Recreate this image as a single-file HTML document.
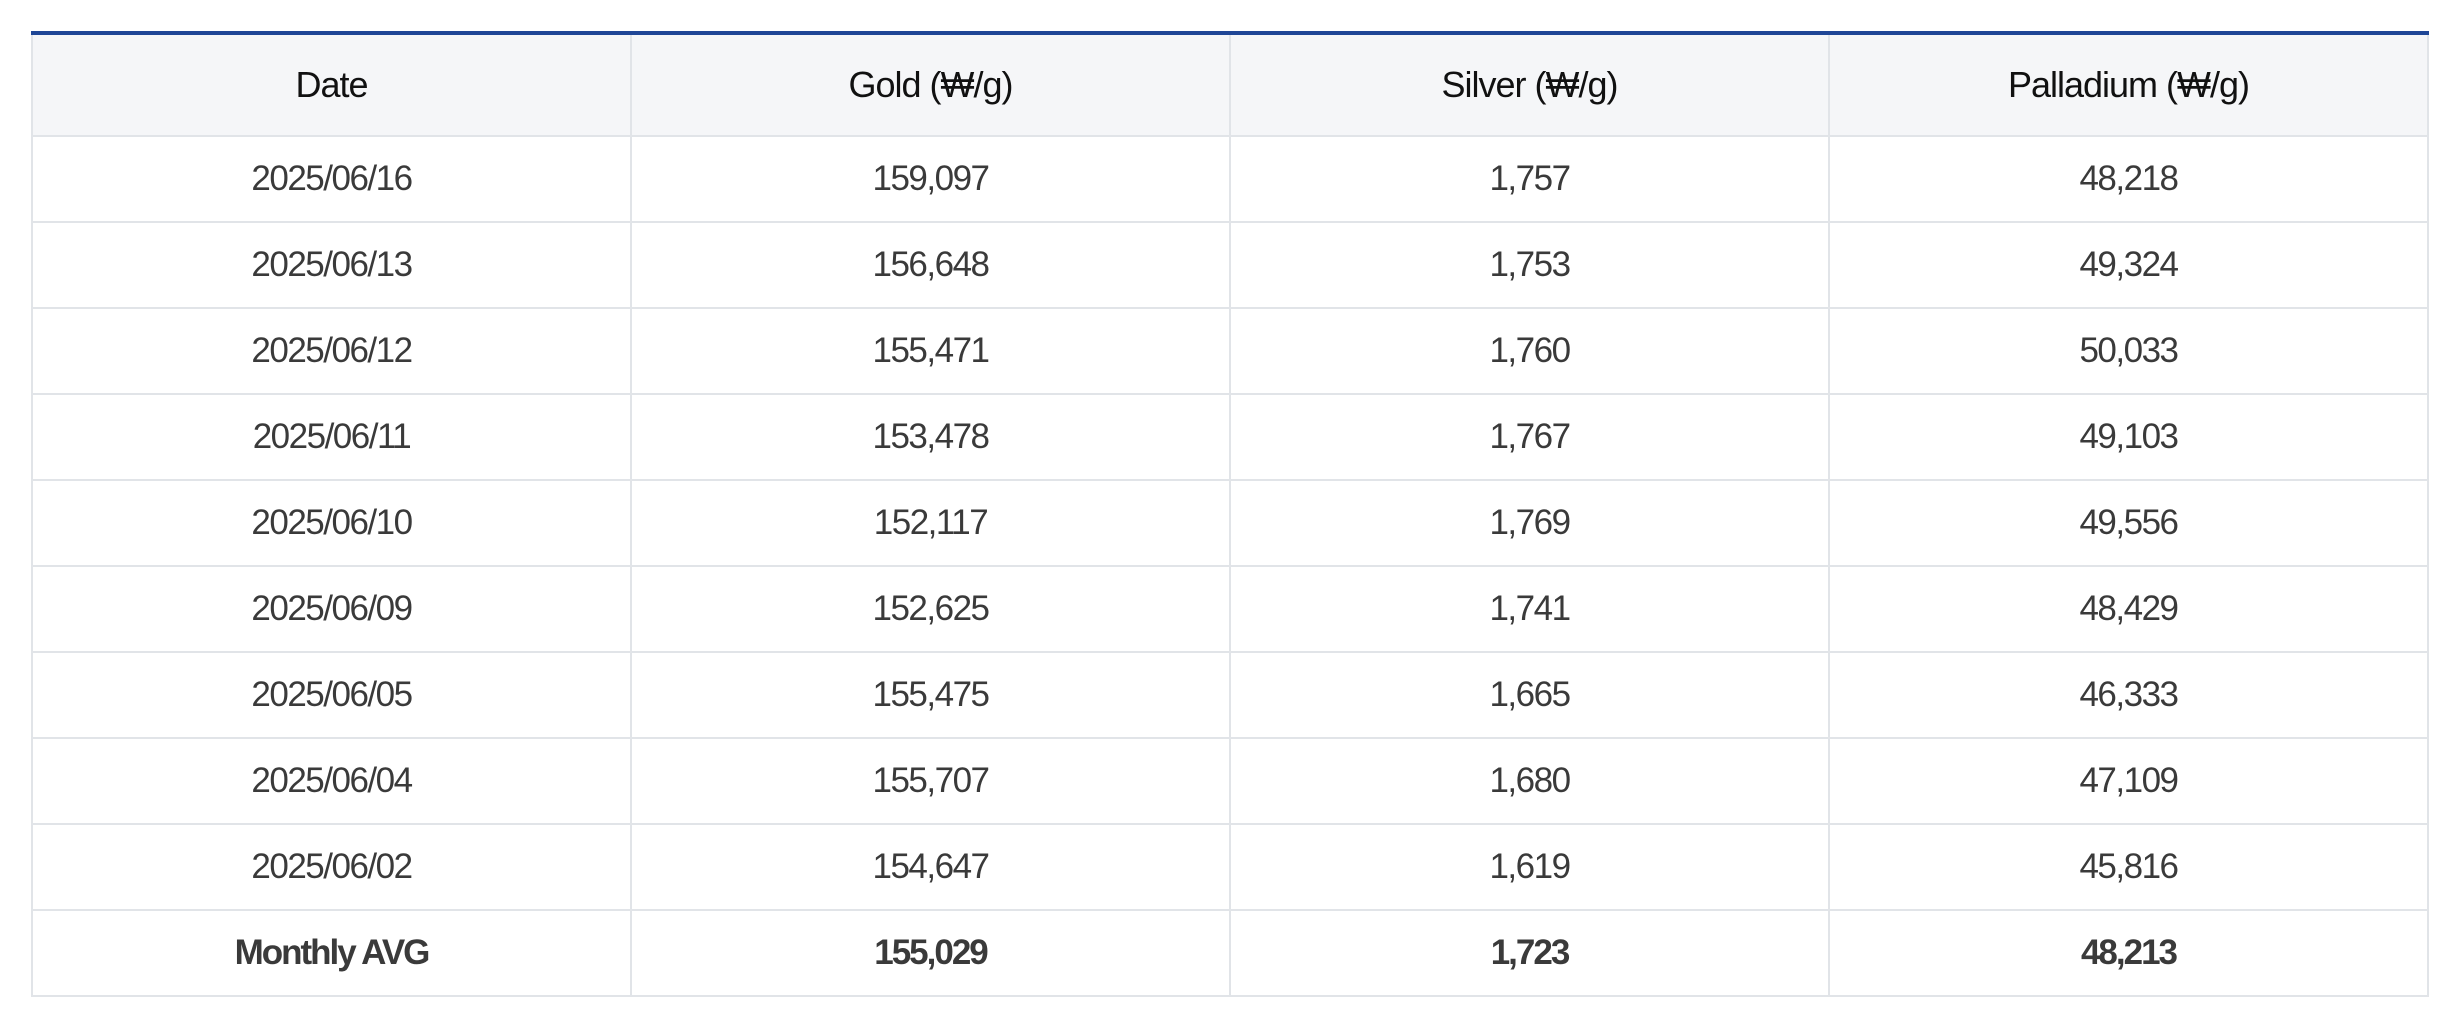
<!DOCTYPE html>
<html><head><meta charset="utf-8">
<style>
html,body{margin:0;padding:0;background:#fff;width:2456px;height:1024px;overflow:hidden}
table{position:absolute;left:31px;top:31px;width:2398px;border-collapse:collapse;table-layout:fixed;font-family:"Liberation Sans","Noto Sans CJK KR",sans-serif;border-top:4px solid #1f4696}
th,td{border:2px solid #e1e4e8;text-align:center;padding:0}
th{background:#f5f6f8;height:100px;font-size:36px;font-weight:normal;color:#111;letter-spacing:-1px;border-top:none}
td{height:84px;font-size:35px;color:#3a3a3a;letter-spacing:-1.5px}
tr.avg td{font-weight:bold;letter-spacing:-2px}
</style></head><body>
<table>
<thead><tr>
<th>Date</th>
<th>Gold (₩/g)</th>
<th>Silver (₩/g)</th>
<th>Palladium (₩/g)</th>
</tr></thead>
<tbody>
<tr><td>2025/06/16</td><td>159,097</td><td>1,757</td><td>48,218</td></tr>
<tr><td>2025/06/13</td><td>156,648</td><td>1,753</td><td>49,324</td></tr>
<tr><td>2025/06/12</td><td>155,471</td><td>1,760</td><td>50,033</td></tr>
<tr><td>2025/06/11</td><td>153,478</td><td>1,767</td><td>49,103</td></tr>
<tr><td>2025/06/10</td><td>152,117</td><td>1,769</td><td>49,556</td></tr>
<tr><td>2025/06/09</td><td>152,625</td><td>1,741</td><td>48,429</td></tr>
<tr><td>2025/06/05</td><td>155,475</td><td>1,665</td><td>46,333</td></tr>
<tr><td>2025/06/04</td><td>155,707</td><td>1,680</td><td>47,109</td></tr>
<tr><td>2025/06/02</td><td>154,647</td><td>1,619</td><td>45,816</td></tr>
<tr class="avg"><td>Monthly AVG</td><td>155,029</td><td>1,723</td><td>48,213</td></tr>
</tbody>
</table>
</body></html>
